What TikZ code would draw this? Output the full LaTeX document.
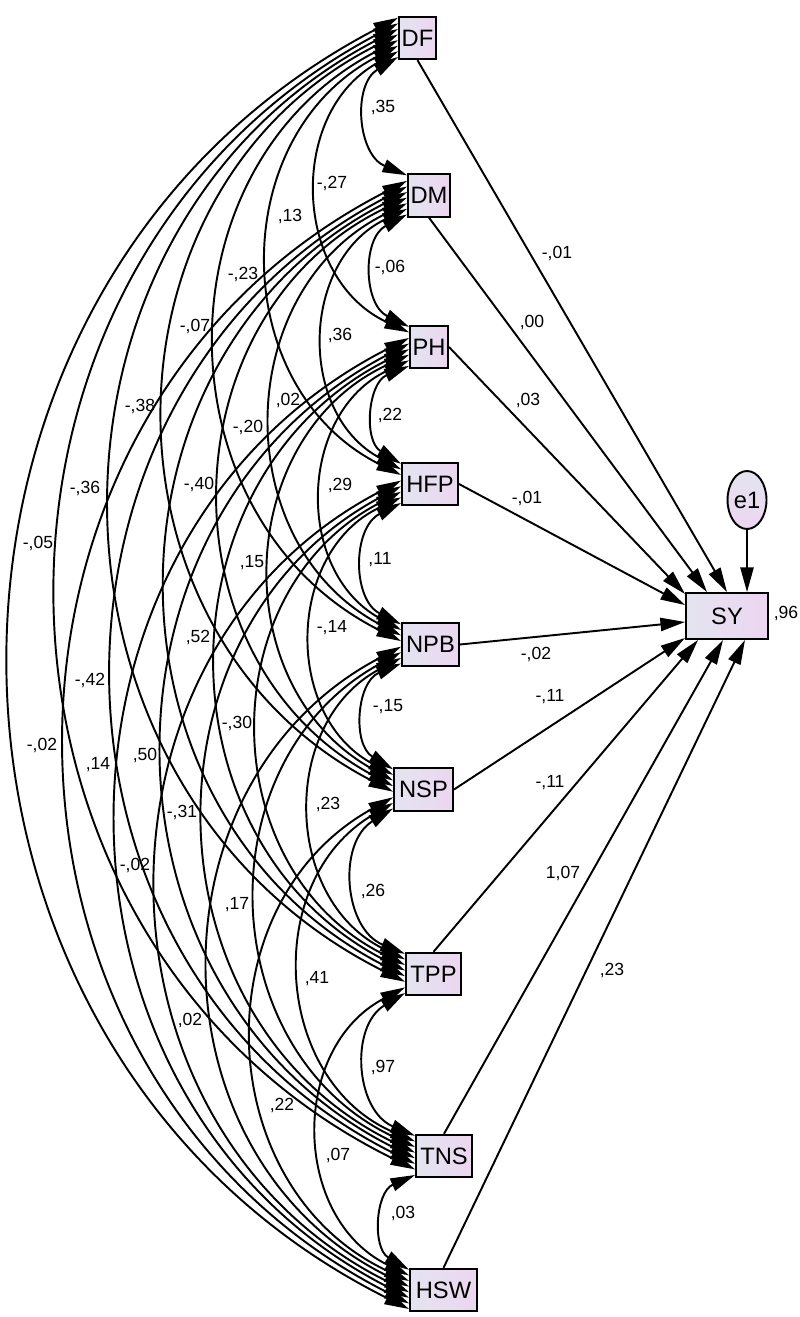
\documentclass[tikz,border=0pt]{standalone}
\usepackage{fontspec}
\setmainfont{Liberation Sans}
\usetikzlibrary{arrows.meta,shapes.geometric,calc}
\definecolor{boxleft}{RGB}{228,228,240}
\definecolor{boxright}{RGB}{236,214,240}
\tikzset{
  var/.style={draw, line width=1.1pt, inner sep=0pt, minimum height=0.85cm, left color=boxleft, right color=boxright, font=\fontsize{13.5}{14}\selectfont},
  coef/.style={font=\fontsize{10}{11}\selectfont, inner sep=0pt},
  regr/.style={-{Triangle[length=14pt,width=7.5pt]}, line width=1.1pt},
  cov/.style={{Triangle[length=14pt,width=7.5pt]}-{Triangle[length=14pt,width=7.5pt]}, line width=1.1pt}
}
\begin{document}
\begin{tikzpicture}[x=0.02cm, y=-0.02cm]
\useasboundingbox (0,0) rectangle (800,1317);
\node[var, minimum width=0.74cm] (DF) at (417.5,38) {DF};
\node[var, minimum width=0.84cm] (DM) at (429,195.5) {DM};
\node[var, minimum width=0.76cm] (PH) at (429,347) {PH};
\node[var, minimum width=1.12cm] (HFP) at (430,484) {HFP};
\node[var, minimum width=1.14cm] (NPB) at (430.5,644.5) {NPB};
\node[var, minimum width=1.18cm] (NSP) at (423.5,789.5) {NSP};
\node[var, minimum width=1.10cm] (TPP) at (433.5,974) {TPP};
\node[var, minimum width=1.12cm] (TNS) at (444,1156) {TNS};
\node[var, minimum width=1.34cm] (HSW) at (443.5,1290) {HSW};
\node[var, minimum width=1.64cm, minimum height=0.92cm] (SY) at (727,616) {SY};
\node[ellipse, draw, line width=1.1pt, inner sep=0pt, minimum width=0.78cm, minimum height=1.16cm, top color=boxleft, bottom color=boxright, font=\fontsize{13.5}{14}\selectfont] (e1) at (747,500) {e1};
\foreach \a/\i in {DF/1,DM/2,PH/3,HFP/4,NPB/5,NSP/6,TPP/7,TNS/8,HSW/9}{
  \foreach \b/\j in {DF/1,DM/2,PH/3,HFP/4,NPB/5,NSP/6,TPP/7,TNS/8,HSW/9}{
    \ifnum\j>\i
      \pgfmathsetmacro\ka{\i+9-\j}
      \pgfmathsetmacro\kb{\j-\i}
      \draw[cov] ($(\a.north west)+(0,{2+(\ka-1)*5.6})$) to[bend right=63, looseness=1.16] ($(\b.north west)+(0,{2+(\kb-1)*5.6})$);
    \fi
  }
}
\draw[regr] (DF.south) -- (SY.north);
\draw[regr] (DM.south) -- ($(SY.north)+(-20,0)$);
\draw[regr] (PH.east) -- ($(SY.north west)+(0,2)$);
\draw[regr] (HFP.east) -- ($(SY.north west)+(0,13)$);
\draw[regr] (NPB.east) -- ($(SY.west)+(0,6)$);
\draw[regr] (NSP.east) -- ($(SY.south west)+(0,-2)$);
\draw[regr] (TPP.north) -- ($(SY.south west)+(13,0)$);
\draw[regr] (TNS.north) -- ($(SY.south)+(-4,0)$);
\draw[regr] (HSW.north) -- ($(SY.south)+(18,0)$);
\draw[regr] (e1) -- (e1 |- SY.north);
\foreach \x/\y/\t [count=\n] in {383/107/{,35}, 332/183/{-,27}, 290/216/{,13}, 390/267/{-,06}, 243/274/{-,23}, 195/326/{-,07}, 340/335/{,36}, 140/406/{-,38}, 288/400/{,02}, 248/427/{-,20}, 390/415/{,22}, 85/488/{-,36}, 199/484/{-,40}, 340/485/{,29}, 38/543/{-,05}, 252/563/{,15}, 380/560/{,11}, 198/637/{,52}, 332/628/{-,14}, 90/680/{-,42}, 42/745/{-,02}, 98/765/{,14}, 145/755/{,50}, 237/723/{-,30}, 388/707/{-,15}, 182/812/{-,31}, 328/804/{,23}, 135/865/{-,02}, 373/891/{,26}, 237/905/{,17}, 317/979/{,41}, 190/1020/{,02}, 383/1067/{,97}, 282/1105/{,22}, 338/1155/{,07}, 403/1213/{,03}}
  \node[coef] (c\n) at (\x,\y) {\t};
\foreach \x/\y/\t [count=\n] in {557/253/{-,01}, 532/322/{,00}, 528/400/{,03}, 527/498/{-,01}, 536/654/{-,02}, 550/697/{-,11}, 550/783/{-,11}, 563/873/{1,07}, 612/970/{,23}, 786/613/{,96}}
  \node[coef] (r\n) at (\x,\y) {\t};
\end{tikzpicture}
\end{document}
